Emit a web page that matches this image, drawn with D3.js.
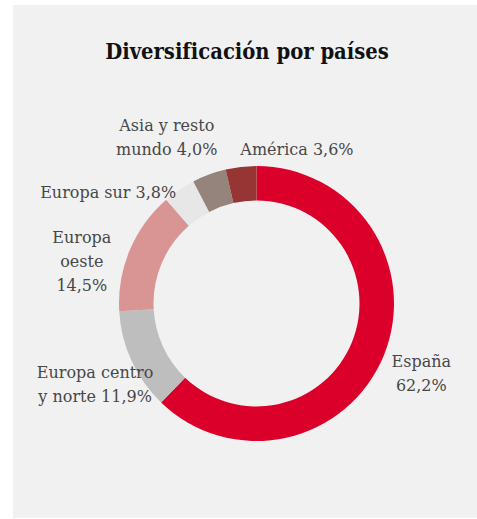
<!DOCTYPE html>
<html lang="es">
<head>
<meta charset="utf-8">
<title>Diversificación por países</title>
<script src="https://cdn.jsdelivr.net/npm/d3@7"></script>
<style>
  body { margin: 0; background: #fff; }
  .title { font-family: "DejaVu Serif Condensed", "DejaVu Serif", serif; font-stretch: condensed; font-weight: bold; font-size: 21.8px; fill: #111; }
  .label { font-family: "DejaVu Serif", serif; font-size: 16px; fill: #474747; }
</style>
</head>
<body>
<div id="chart"></div>
<script>
// data
var countries = ["España", "Europa centro y norte", "Europa oeste", "Europa sur", "Asia y resto mundo", "América"];
var shares = [62.2, 11.9, 14.5, 3.8, 4.0, 3.6];
var labelLines = [
  ["España", "62,2%"],
  ["Europa centro", "y norte 11,9%"],
  ["Europa", "oeste", "14,5%"],
  ["Europa sur 3,8%"],
  ["Asia y resto", "mundo 4,0%"],
  ["América 3,6%"]
];
var colors = ["#db0029", "#bebebe", "#d99594", "#e7e7e7", "#94847c", "#973535"];

// layout
var W = 477, H = 519;
var cx = 256.5, cy = 303.5, rOuter = 137.5, rInner = 103;
var labelR = 182, lineH = 24;
// hand placed labels, offset from the centroid on the label ring
var labelNudge = [[-4, 2], [4, 5], [-7, 29], [-46, 39], [-27, 5], [61, 27]];

var svg = d3.select("#chart").append("svg")
    .attr("width", W)
    .attr("height", H);

// panel
svg.append("rect")
    .attr("x", 13).attr("y", 5)
    .attr("width", W - 13).attr("height", 513)
    .attr("fill", "#f1f1f1");

svg.append("text")
    .attr("class", "title")
    .attr("x", 247).attr("y", 59)
    .attr("text-anchor", "middle")
    .text("Diversificación por países");

var data = countries.map(function(c, i) { return {name: c, value: shares[i], i: i}; });

var pie = d3.pie().sort(null).value(function(d) { return d.value; });
var arc = d3.arc().innerRadius(rInner).outerRadius(rOuter);
var labelArc = d3.arc().innerRadius(labelR).outerRadius(labelR);

var g = svg.append("g").attr("transform", "translate(" + cx + "," + cy + ")");
var arcs = pie(data);

g.selectAll("path")
  .data(arcs)
  .enter().append("path")
    .attr("d", arc)
    .attr("fill", function(d) { return colors[d.data.i]; });

var labels = g.selectAll("text.label")
  .data(arcs)
  .enter().append("text")
    .attr("class", "label")
    .attr("text-anchor", "middle")
    .attr("transform", function(d) {
      var c = labelArc.centroid(d), n = labelNudge[d.data.i];
      return "translate(" + (c[0] + n[0]) + "," + (c[1] + n[1]) + ")";
    });

labels.each(function(d) {
  var lines = labelLines[d.data.i];
  var t = d3.select(this);
  lines.forEach(function(l, k) {
    t.append("tspan")
      .attr("x", 0)
      .attr("y", (k - (lines.length - 1) / 2) * lineH)
      .attr("dy", "0.35em")
      .text(l);
  });
});
</script>
</body>
</html>
